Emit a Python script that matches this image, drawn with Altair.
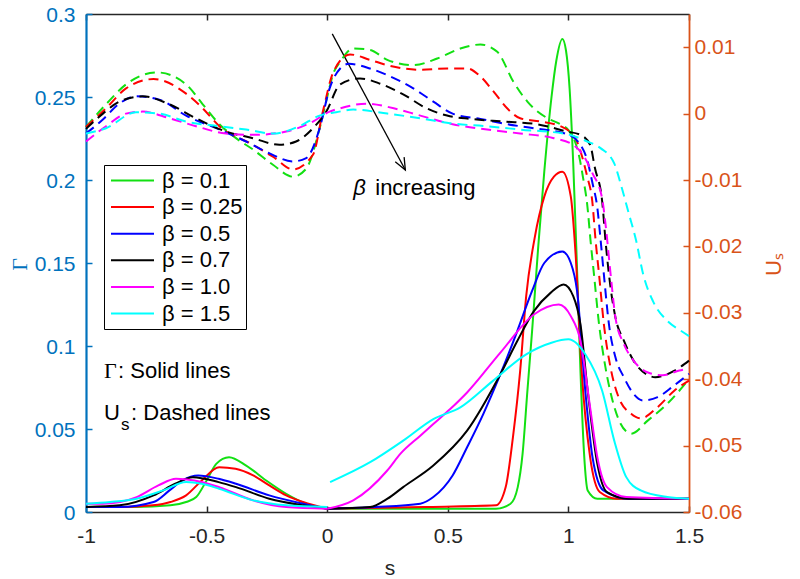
import altair as alt
import pandas as pd

beta_labels = ["β = 0.1", "β = 0.25", "β = 0.5", "β = 0.7", "β = 1.0", "β = 1.5"]
line_colors = ["#12e012", "#ff0000", "#0000ff", "#000000", "#ff00ff", "#00ffff"]

x_ticks = [-1, -0.5, 0, 0.5, 1, 1.5]
gamma_ticks = [0, 0.05, 0.1, 0.15, 0.2, 0.25, 0.3]
us_ticks = [0.01, 0, -0.01, -0.02, -0.03, -0.04, -0.05, -0.06]

# ---- Gamma (solid), segment s in [-1, 0] ----
G01L_s = [-1, -0.8, -0.65, -0.585, -0.543, -0.50, -0.46, -0.407, -0.336, -0.253, -0.17, -0.087, 0]
G01L = [0.003, 0.003, 0.004, 0.006, 0.009, 0.019, 0.029, 0.033, 0.028, 0.019, 0.011, 0.005, 0.002]
G025L_s = [-1, -0.85, -0.723, -0.65, -0.585, -0.52, -0.448, -0.38, -0.307, -0.24, -0.17, -0.1, 0]
G025L = [0.003, 0.003, 0.004, 0.006, 0.010, 0.019, 0.027, 0.026, 0.022, 0.016, 0.010, 0.006, 0.002]
G05L_s = [-1, -0.86, -0.72, -0.654, -0.6, -0.535, -0.45, -0.378, -0.24, -0.1, 0]
G05L = [0.003, 0.003, 0.006, 0.013, 0.019, 0.022, 0.020, 0.017, 0.010, 0.005, 0.002]
G07L_s = [-1, -0.86, -0.72, -0.63, -0.557, -0.45, -0.378, -0.24, -0.1, 0]
G07L = [0.003, 0.004, 0.010, 0.017, 0.021, 0.018, 0.015, 0.008, 0.004, 0.002]
G10L_s = [-1, -0.93, -0.79, -0.7, -0.627, -0.55, -0.448, -0.307, -0.17, 0]
G10L = [0.005, 0.005, 0.009, 0.016, 0.020, 0.019, 0.015, 0.007, 0.003, 0.002]
G15L_s = [-1, -0.9, -0.79, -0.68, -0.585, -0.52, -0.448, -0.307, -0.17, 0]
G15L = [0.005, 0.006, 0.008, 0.013, 0.018, 0.017, 0.014, 0.007, 0.004, 0.003]

# ---- Gamma (solid), segment s in [0, 1.5] ----
G01R_s = [0, 0.4, 0.7, 0.76, 0.79, 0.81, 0.83, 0.85, 0.875, 0.90, 0.93, 0.95, 0.975, 0.99,
          1.005, 1.02, 1.035, 1.05, 1.065, 1.08, 1.12, 1.2, 1.5]
G01R = [0.002, 0.002, 0.002, 0.005, 0.015, 0.035, 0.073, 0.11, 0.16, 0.205, 0.25, 0.272, 0.285, 0.278,
        0.255, 0.21, 0.15, 0.085, 0.035, 0.013, 0.008, 0.008, 0.008]
G025R_s = [0, 0.4, 0.7, 0.74, 0.77, 0.80, 0.825, 0.86, 0.90, 0.94, 0.975, 1.01, 1.03, 1.055, 1.09, 1.13, 1.2, 1.5]
G025R = [0.002, 0.003, 0.004, 0.015, 0.045, 0.085, 0.13, 0.165, 0.19, 0.202, 0.205, 0.19, 0.155, 0.085,
         0.033, 0.012, 0.008, 0.008]
G05R_s = [0, 0.2, 0.386, 0.44, 0.52, 0.58, 0.647, 0.718, 0.788, 0.849, 0.90, 0.975, 1.01, 1.036, 1.07,
          1.10, 1.145, 1.25, 1.5]
G05R = [0.002, 0.003, 0.005, 0.009, 0.022, 0.039, 0.059, 0.083, 0.109, 0.133, 0.15, 0.157, 0.15, 0.133,
        0.073, 0.033, 0.013, 0.008, 0.008]
G07R_s = [0, 0.178, 0.25, 0.315, 0.44, 0.58, 0.718, 0.788, 0.857, 0.926, 0.98, 1.02, 1.05, 1.08, 1.12,
          1.16, 1.25, 1.5]
G07R = [0.002, 0.003, 0.008, 0.015, 0.028, 0.049, 0.083, 0.103, 0.121, 0.132, 0.137, 0.13, 0.113, 0.073,
        0.029, 0.012, 0.008, 0.008]
G10R_s = [0, 0.108, 0.249, 0.303, 0.386, 0.44, 0.51, 0.58, 0.718, 0.857, 0.96, 1.01, 1.05, 1.09, 1.12,
          1.16, 1.24, 1.5]
G10R = [0.002, 0.007, 0.025, 0.035, 0.046, 0.053, 0.062, 0.072, 0.096, 0.119, 0.125, 0.118, 0.103, 0.063,
        0.033, 0.015, 0.009, 0.008]
G15R_s = [0.012, 0.178, 0.315, 0.44, 0.552, 0.687, 0.825, 0.93, 1.0, 1.07, 1.14, 1.19, 1.24, 1.30, 1.41, 1.5]
G15R = [0.018, 0.030, 0.043, 0.056, 0.063, 0.079, 0.095, 0.102, 0.104, 0.095, 0.073, 0.043, 0.021, 0.013,
        0.009, 0.008]

# ---- U_s (dashed) ----
U01_s = [-1, -0.917, -0.834, -0.705, -0.585, -0.516, -0.447, -0.378, -0.308, -0.225,
         -0.142, -0.087, -0.032, 0.0, 0.025, 0.054, 0.108, 0.177, 0.249, 0.357,
         0.456, 0.552, 0.635, 0.705, 0.772, 0.83, 0.913, 0.967, 1.0, 1.03,
         1.045, 1.06, 1.078, 1.092, 1.106, 1.127, 1.154, 1.18, 1.215, 1.26,
         1.33, 1.41, 1.5]
U01 = [-0.002, 0.0014, 0.0044, 0.0062, 0.0044, 0.0014, -0.0016, -0.0037, -0.0054, -0.0077,
       -0.0095, -0.0083, -0.0023, 0.0025, 0.006, 0.0078, 0.0098, 0.0096, 0.0081, 0.0073,
       0.0083, 0.0098, 0.0104, 0.0093, 0.0048, 0.0018, -0.0007, -0.0016, -0.0025, -0.0045,
       -0.0065, -0.0095, -0.0137, -0.0192, -0.0242, -0.0317, -0.0383, -0.0428, -0.0466, -0.0482,
       -0.0462, -0.0437, -0.040]
U025_s = [-1, -0.917, -0.834, -0.72, -0.585, -0.516, -0.447, -0.308, -0.225, -0.142,
          -0.059, -0.018, 0.026, 0.095, 0.177, 0.249, 0.386, 0.497, 0.58, 0.635,
          0.69, 0.746, 0.80, 0.884, 0.967, 1.03, 1.057, 1.078, 1.099, 1.113,
          1.127, 1.147, 1.175, 1.209, 1.26, 1.30, 1.37, 1.44, 1.5]
U025 = [-0.002, 0.0008, 0.0038, 0.0052, 0.003, 0.0008, -0.0019, -0.0047, -0.0065, -0.0084,
        -0.0062, 0.0003, 0.0063, 0.0089, 0.0081, 0.0073, 0.0066, 0.0068, 0.0068, 0.0056,
        0.0033, 0.0008, -0.0007, -0.0012, -0.0019, -0.0038, -0.0065, -0.0095, -0.0132, -0.0192,
        -0.0242, -0.0317, -0.0383, -0.0428, -0.0452, -0.0459, -0.0442, -0.0417, -0.0402]
U05_s = [-1, -0.93, -0.862, -0.793, -0.696, -0.585, -0.447, -0.336, -0.239, -0.142,
         -0.087, -0.032, 0.01, 0.054, 0.09, 0.177, 0.249, 0.357, 0.44, 0.52,
         0.635, 0.746, 0.856, 0.994, 1.05, 1.078, 1.10, 1.12, 1.134, 1.147,
         1.168, 1.195, 1.23, 1.27, 1.31, 1.37, 1.44, 1.5]
U05 = [-0.003, -0.0009, 0.0015, 0.0026, 0.0021, -0.0003, -0.0024, -0.0042, -0.006, -0.0072,
       -0.0067, -0.0023, 0.0038, 0.0068, 0.0075, 0.0068, 0.0058, 0.0038, 0.0018, 0.0,
       -0.0008, -0.0016, -0.0022, -0.0031, -0.0047, -0.007, -0.0105, -0.0142, -0.0192, -0.0242,
       -0.0317, -0.0367, -0.0397, -0.0422, -0.0432, -0.0427, -0.0409, -0.0392]
U07_s = [-1, -0.93, -0.862, -0.765, -0.654, -0.544, -0.42, -0.308, -0.198, -0.129,
         -0.059, -0.004, 0.054, 0.136, 0.22, 0.315, 0.412, 0.497, 0.594, 0.732,
         0.87, 0.994, 1.05, 1.09, 1.11, 1.14, 1.154, 1.168, 1.195, 1.23,
         1.27, 1.33, 1.36, 1.44, 1.5]
U07 = [-0.0023, 0.0, 0.0018, 0.0026, 0.0014, -0.0007, -0.0027, -0.0037, -0.0047, -0.0042,
       -0.0022, 0.0003, 0.0044, 0.0053, 0.0045, 0.0029, 0.0008, -0.0003, -0.0008, -0.0012,
       -0.0016, -0.0027, -0.0032, -0.0047, -0.0082, -0.0132, -0.0192, -0.0242, -0.0307, -0.0342,
       -0.0372, -0.0394, -0.0397, -0.0387, -0.0372]
U10_s = [-1, -0.917, -0.834, -0.765, -0.654, -0.544, -0.42, -0.3, -0.17, -0.059,
         0.01, 0.054, 0.164, 0.276, 0.386, 0.52, 0.663, 0.8, 0.94, 1.02,
         1.06, 1.10, 1.14, 1.154, 1.175, 1.195, 1.23, 1.27, 1.33, 1.39,
         1.46, 1.5]
U10 = [-0.0042, -0.0019, 0.0, 0.0003, -0.0007, -0.0019, -0.003, -0.0032, -0.0027, -0.0012,
       0.0003, 0.0008, 0.0015, 0.0008, -0.0003, -0.0016, -0.0024, -0.003, -0.0037, -0.0047,
       -0.0062, -0.009, -0.0128, -0.0167, -0.0242, -0.0307, -0.0347, -0.0372, -0.039, -0.0394,
       -0.0387, -0.0384]
U15_s = [-1, -0.917, -0.793, -0.696, -0.585, -0.447, -0.336, -0.225, -0.115, -0.032,
         0.037, 0.108, 0.249, 0.386, 0.52, 0.663, 0.8, 0.994, 1.078, 1.133,
         1.19, 1.22, 1.25, 1.28, 1.31, 1.35, 1.41, 1.466, 1.5]
U15 = [-0.003, -0.0022, 0.0002, 0.0, -0.0012, -0.0019, -0.0024, -0.003, -0.0019, -0.0003,
       0.0002, 0.0006, 0.0, -0.0007, -0.0015, -0.0019, -0.0024, -0.0031, -0.0042, -0.0052,
       -0.0075, -0.011, -0.015, -0.019, -0.0242, -0.0282, -0.0312, -0.0327, -0.0335]

# ---- annotations ----
arrow_s = [0.021, 0.324]
arrow_gamma = [0.288, 0.206]

BLUE = "#0072BD"
ORANGE = "#D95319"
FONT = "Liberation Sans"
W, H = 603, 498


def frame(label, seg, s, v, key):
    return pd.DataFrame({"s": s, key: v, "beta": label, "seg": seg})


solid_df = pd.concat([
    frame(beta_labels[0], "L", G01L_s, G01L, "gamma"), frame(beta_labels[0], "R", G01R_s, G01R, "gamma"),
    frame(beta_labels[1], "L", G025L_s, G025L, "gamma"), frame(beta_labels[1], "R", G025R_s, G025R, "gamma"),
    frame(beta_labels[2], "L", G05L_s, G05L, "gamma"), frame(beta_labels[2], "R", G05R_s, G05R, "gamma"),
    frame(beta_labels[3], "L", G07L_s, G07L, "gamma"), frame(beta_labels[3], "R", G07R_s, G07R, "gamma"),
    frame(beta_labels[4], "L", G10L_s, G10L, "gamma"), frame(beta_labels[4], "R", G10R_s, G10R, "gamma"),
    frame(beta_labels[5], "L", G15L_s, G15L, "gamma"), frame(beta_labels[5], "R", G15R_s, G15R, "gamma"),
], ignore_index=True)

dashed_df = pd.concat([
    frame(beta_labels[0], "A", U01_s, U01, "us"),
    frame(beta_labels[1], "A", U025_s, U025, "us"),
    frame(beta_labels[2], "A", U05_s, U05, "us"),
    frame(beta_labels[3], "A", U07_s, U07, "us"),
    frame(beta_labels[4], "A", U10_s, U10, "us"),
    frame(beta_labels[5], "A", U15_s, U15, "us"),
], ignore_index=True)

arrow_df = pd.DataFrame({"s": arrow_s, "gamma": arrow_gamma})
arrow_tip_df = arrow_df.tail(1)

xscale = alt.Scale(domain=[-1, 1.5], nice=False, zero=False)
yL = alt.Scale(domain=[0, 0.3], nice=False, zero=False)
yR = alt.Scale(domain=[-0.06, 0.015], nice=False, zero=False)
cscale = alt.Scale(domain=beta_labels, range=line_colors)
TICK = {"expr": "-6"}

x_axis = alt.Axis(
    orient="bottom", values=x_ticks, labelExpr="datum.value + ''", title="s",
    labelFontSize=21, labelColor="#262626", domainColor="#262626", tickColor="#262626",
    domainWidth=1.5, tickWidth=1.5, tickSize=TICK, labelPadding=19, labelFlush=False, grid=False,
    titleFontSize=21, titleFontWeight="normal", titleColor="#262626",
    titleBaseline="alphabetic", titleY=62, titleX=W / 2 + 2)

y_axis = alt.Axis(
    orient="left", values=gamma_ticks, labelExpr="datum.value + ''", title="Γ",
    labelFontSize=21, labelColor=BLUE, domainColor=BLUE, tickColor=BLUE,
    domainWidth=2.2, tickWidth=1.5, tickSize=TICK, labelPadding=17, labelOffset=1.5,
    labelFlush=False, grid=False,
    titleFont="Liberation Serif", titleFontSize=22, titleFontWeight="normal", titleColor=BLUE,
    titleAngle=270, titleX=-67, titleY=250, titleAlign="center", titleBaseline="middle")


def xb():
    return alt.X("s:Q", scale=xscale, axis=x_axis, title="s")


def yl():
    return alt.Y("gamma:Q", scale=yL, axis=y_axis, title="Γ")


legend = alt.Legend(
    title=None, orient="none", legendX=18, legendY=151, symbolType="stroke",
    symbolSize=1849, symbolStrokeWidth=2, symbolOffset=3, labelFontSize=22, labelFont=FONT,
    labelColor="black", strokeColor="black", fillColor="white", padding=3,
    clipHeight=25, rowPadding=1.6, labelOffset=7)

solid = alt.Chart(solid_df).mark_line(strokeWidth=2, interpolate="monotone").encode(
    x=xb(), y=yl(),
    color=alt.Color("beta:N", scale=cscale, sort=beta_labels, legend=legend),
    detail="seg:N")

arrow_line = alt.Chart(arrow_df).mark_line(color="black", strokeWidth=1.3).encode(x=xb(), y=yl())
arrow_head = alt.Chart(arrow_tip_df).mark_point(
    shape="M-0.42,-1L0,0L0.42,-1", size=576, angle=331.8, filled=False,
    stroke="black", strokeWidth=1.3, opacity=1).encode(x=xb(), y=yl())


def text_layer(s, g, label, **kw):
    df = pd.DataFrame({"s": [s], "gamma": [g], "label": [label]})
    base = dict(align="left", baseline="middle", fontSize=22, font=FONT, color="black")
    base.update(kw)
    return alt.Chart(df).mark_text(**base).encode(x=xb(), y=yl(), text="label:N")


texts = [
    text_layer(0.108, 0.195, "β", fontStyle="italic"),
    text_layer(0.108, 0.195, "increasing", dx=22),
    text_layer(-0.925, 0.0852, "Γ", font="Liberation Serif"),
    text_layer(-0.925, 0.0852, ": Solid lines", dx=14),
    text_layer(-0.925, 0.0594, "U"),
    text_layer(-0.925, 0.0594, "s", dx=17, dy=12, fontSize=17),
    text_layer(-0.925, 0.0594, ": Dashed lines", dx=27),
]

left_group = alt.layer(solid, arrow_line, arrow_head, *texts)

dashed = alt.Chart(dashed_df).mark_line(strokeWidth=2, strokeDash=[10, 6], interpolate="monotone").encode(
    x=alt.X("s:Q", scale=xscale, axis=alt.Axis(
        orient="top", values=x_ticks, labels=False, title=None, domainColor="#262626",
        tickColor="#262626", domainWidth=1.5, tickWidth=1.5, tickSize=TICK, grid=False)),
    y=alt.Y("us:Q", scale=yR, axis=alt.Axis(
        orient="right", values=us_ticks, labelExpr="datum.value + ''", title="Uₛ",
        labelFontSize=21, labelColor=ORANGE, domainColor=ORANGE, tickColor=ORANGE,
        domainWidth=1.8, tickWidth=1.5, tickSize=TICK, labelPadding=11, labelFlush=False, grid=False,
        titleFontSize=22, titleFontWeight="normal", titleColor=ORANGE, titleFont=FONT,
        titleAngle=270, titleX=84, titleY=250, titleAlign="center", titleBaseline="middle")),
    color=alt.Color("beta:N", scale=cscale, sort=beta_labels, legend=None),
    detail="seg:N")

chart = alt.layer(left_group, dashed).resolve_scale(y="independent").resolve_axis(x="independent").properties(
    width=W, height=H,
    padding={"left": 78, "top": 6, "right": 100, "bottom": 66},
    autosize=alt.AutoSizeParams(type="none"),
).configure_view(strokeWidth=0).configure(font=FONT, background="white")

chart.save("out.html", embed_options={"renderer": "svg", "actions": False})
